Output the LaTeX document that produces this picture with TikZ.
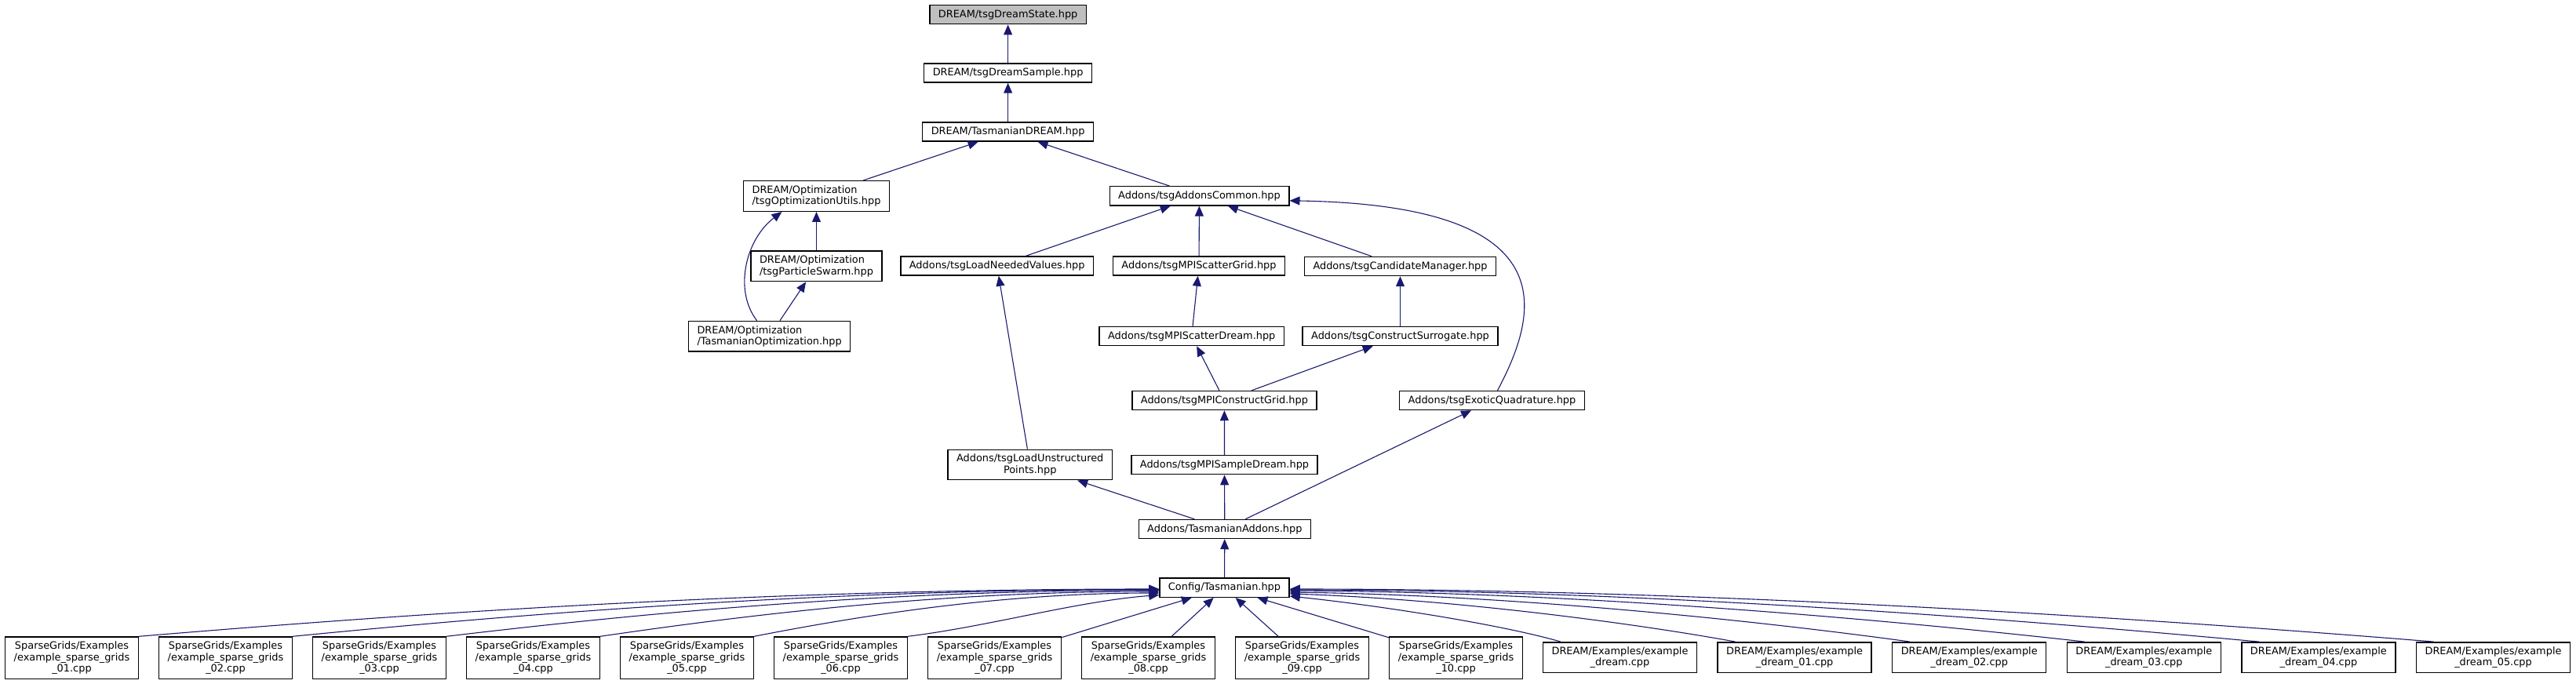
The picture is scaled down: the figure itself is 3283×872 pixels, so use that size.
\documentclass[tikz,border=0pt]{standalone}
\usepackage{fontspec}
\setmainfont{DejaVu Sans}
\usetikzlibrary{arrows.meta}
\definecolor{edgeblue}{HTML}{191970}

\begin{document}
\begin{tikzpicture}[x=1pt,y=-1pt,->,>={Triangle[length=13pt,width=11pt]}]
  \tikzstyle{file}=[draw=black,line width=1.4pt,inner xsep=11pt,inner ysep=5.8pt,minimum height=24pt,font=\fontsize{12.9pt}{14.5pt}\selectfont]
  \tikzstyle{dep}=[draw=edgeblue,line width=1.1pt]
  \useasboundingbox (0,0) rectangle (3283,872);

  \node[file,fill=black!25] (State) at (1284.6,18.7) {DREAM/tsgDreamState.hpp};
  \node[file] (Sample) at (1284.6,93)  {DREAM/tsgDreamSample.hpp};
  \node[file] (Dream)  at (1284.6,168) {DREAM/TasmanianDREAM.hpp};
  \node[file,align=left] (OptUtils) at (1040.5,250)   {DREAM/Optimization\\/tsgOptimizationUtils.hpp};
  \node[file,align=left] (Swarm)    at (1040.5,339.3) {DREAM/Optimization\\/tsgParticleSwarm.hpp};
  \node[file,align=left] (TasOpt)   at (980.6,428.7)  {DREAM/Optimization\\/TasmanianOptimization.hpp};
  \node[file] (Common)  at (1528.5,249.8) {Addons/tsgAddonsCommon.hpp};
  \node[file] (Needed)  at (1270.7,339)   {Addons/tsgLoadNeededValues.hpp};
  \node[file] (ScGrid)  at (1528,339)     {Addons/tsgMPIScatterGrid.hpp};
  \node[file] (Cand)    at (1784.5,339.5) {Addons/tsgCandidateManager.hpp};
  \node[file] (ScDream) at (1518.7,428.5) {Addons/tsgMPIScatterDream.hpp};
  \node[file] (Surr)    at (1784.5,428.5) {Addons/tsgConstructSurrogate.hpp};
  \node[file] (ConGrid) at (1560.4,510.5) {Addons/tsgMPIConstructGrid.hpp};
  \node[file] (Exotic)  at (1901.5,510.5) {Addons/tsgExoticQuadrature.hpp};
  \node[file,align=center] (Unstr) at (1312.7,592.5) {Addons/tsgLoadUnstructured\\Points.hpp};
  \node[file] (SmDream) at (1560.5,592.7) {Addons/tsgMPISampleDream.hpp};
  \node[file] (Addons)  at (1560.8,674.5) {Addons/TasmanianAddons.hpp};
  \node[file] (Tas)     at (1560.5,749.2) {Config/Tasmanian.hpp};

  % examples
  \node[file,align=center] (SG1)  at (91.5,838.7)   {SparseGrids/Examples\\/example\_sparse\_grids\\\_01.cpp};
  \node[file,align=center] (SG2)  at (287.5,838.7)  {SparseGrids/Examples\\/example\_sparse\_grids\\\_02.cpp};
  \node[file,align=center] (SG3)  at (483.5,838.7)  {SparseGrids/Examples\\/example\_sparse\_grids\\\_03.cpp};
  \node[file,align=center] (SG4)  at (679.5,838.7)  {SparseGrids/Examples\\/example\_sparse\_grids\\\_04.cpp};
  \node[file,align=center] (SG5)  at (875.5,838.7)  {SparseGrids/Examples\\/example\_sparse\_grids\\\_05.cpp};
  \node[file,align=center] (SG6)  at (1071.5,838.7) {SparseGrids/Examples\\/example\_sparse\_grids\\\_06.cpp};
  \node[file,align=center] (SG7)  at (1267.5,838.7) {SparseGrids/Examples\\/example\_sparse\_grids\\\_07.cpp};
  \node[file,align=center] (SG8)  at (1463.5,838.7) {SparseGrids/Examples\\/example\_sparse\_grids\\\_08.cpp};
  \node[file,align=center] (SG9)  at (1659.5,838.7) {SparseGrids/Examples\\/example\_sparse\_grids\\\_09.cpp};
  \node[file,align=center] (SG10) at (1855.5,838.7) {SparseGrids/Examples\\/example\_sparse\_grids\\\_10.cpp};
  \node[file,align=center] (DE0) at (2064.5,838.3) {DREAM/Examples/example\\\_dream.cpp};
  \node[file,align=center] (DE1) at (2287.1,838.3) {DREAM/Examples/example\\\_dream\_01.cpp};
  \node[file,align=center] (DE2) at (2509.7,838.3) {DREAM/Examples/example\\\_dream\_02.cpp};
  \node[file,align=center] (DE3) at (2732.3,838.3) {DREAM/Examples/example\\\_dream\_03.cpp};
  \node[file,align=center] (DE4) at (2954.9,838.3) {DREAM/Examples/example\\\_dream\_04.cpp};
  \node[file,align=center] (DE5) at (3177.5,838.3) {DREAM/Examples/example\\\_dream\_05.cpp};

  \draw[dep] (Sample) -- (State);
  \draw[dep] (Dream) -- (Sample);
  \draw[dep] (OptUtils) -- (Dream);
  \draw[dep] (Common) -- (Dream);
  \draw[dep] (Swarm) -- (OptUtils);
  \draw[dep] ([xshift=-16pt]TasOpt.north) .. controls +(-30,-39) and +(-46,35) .. ([xshift=-44pt]OptUtils.south);
  \draw[dep] (TasOpt) -- (Swarm);
  \draw[dep] (Needed) -- (Common);
  \draw[dep] (ScGrid) -- (Common);
  \draw[dep] (Cand) -- (Common);
  \draw[dep] ([xshift=7pt]Exotic.north) .. controls +(52,-98) and +(357,6) .. ([yshift=-6pt]Common.east);
  \draw[dep] (ScDream) -- (ScGrid);
  \draw[dep] (Surr) -- (Cand);
  \draw[dep] (ConGrid) -- (ScDream);
  \draw[dep] (ConGrid) -- (Surr);
  \draw[dep] (Unstr) -- (Needed);
  \draw[dep] (SmDream) -- (ConGrid);
  \draw[dep] (Addons) -- (Unstr);
  \draw[dep] (Addons) -- (SmDream);
  \draw[dep] (Addons) -- (Exotic);
  \draw[dep] (Tas) -- (Addons);

  % examples to Config/Tasmanian.hpp
  \draw[dep] (SG1.north east) .. controls +(325,-27) and +(-520,0) .. ([yshift=-1.8pt]Tas.west);
  \draw[dep] (SG2.north east) .. controls +(276,-27) and +(-441,0) .. ([yshift=-2.3pt]Tas.west);
  \draw[dep] (SG3.north east) .. controls +(227,-27) and +(-363,0) .. ([yshift=-3.3pt]Tas.west);
  \draw[dep] (SG4.north east) .. controls +(178,-26) and +(-285,0) .. ([yshift=-4.8pt]Tas.west);
  \draw[dep] (SG5.north east) .. controls +(129,-25) and +(-206,0) .. ([yshift=-6.8pt]Tas.west);
  \draw[dep] (SG6.north east) .. controls +(105,-13) and +(-105,8) .. ([yshift=-9.3pt]Tas.west);
  \draw[dep] (SG7) -- (Tas);
  \draw[dep] (SG8) -- (Tas);
  \draw[dep] (SG9) -- (Tas);
  \draw[dep] (SG10) -- (Tas);
  \draw[dep] ([xshift=-75.5pt]DE0.north) .. controls +(-76,-22) and +(115,12) .. ([yshift=-10.8pt]Tas.east);
  \draw[dep] ([xshift=-75.5pt]DE1.north) .. controls +(-125,-23) and +(210,7) .. ([yshift=-7.8pt]Tas.east);
  \draw[dep] ([xshift=-75.5pt]DE2.north) .. controls +(-174,-24) and +(300,4) .. ([yshift=-5.8pt]Tas.east);
  \draw[dep] ([xshift=-75.5pt]DE3.north) .. controls +(-223,-25) and +(385,2) .. ([yshift=-3.8pt]Tas.east);
  \draw[dep] ([xshift=-75.5pt]DE4.north) .. controls +(-272,-25) and +(470,0) .. ([yshift=-2.8pt]Tas.east);
  \draw[dep] ([xshift=-75.5pt]DE5.north) .. controls +(-321,-26) and +(555,0) .. ([yshift=-1.8pt]Tas.east);
\end{tikzpicture}
\end{document}
